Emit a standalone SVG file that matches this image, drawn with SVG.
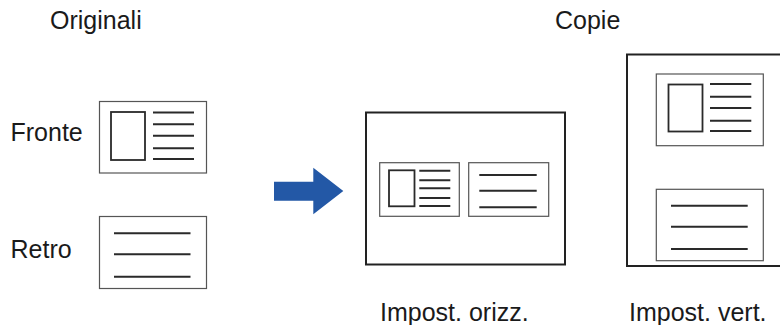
<svg xmlns="http://www.w3.org/2000/svg" width="780" height="325" viewBox="0 0 780 325">
<style>
.t{font-family:"Liberation Sans",Arial,sans-serif;font-size:25px;fill:#1a1a1a}
.card{fill:#fff;stroke:#555;stroke-width:1.2}
.frame{fill:#fff;stroke:#222;stroke-width:2}
.pic{fill:none;stroke:#2a2a2a;stroke-width:1.8}
.ln{stroke:#2a2a2a;stroke-width:2}
</style>
<rect width="780" height="325" fill="#fff"/>
<text class="t" x="50" y="29">Originali</text>
<text class="t" x="555" y="29">Copie</text>
<text class="t" x="380" y="321">Impost. orizz.</text>
<text class="t" x="629" y="321">Impost. vert.</text>
<g id="fronte">
<text class="t" x="10.5" y="141">Fronte</text>
<rect class="card" x="99.5" y="101.5" width="107" height="71.5"/>
<rect class="pic" x="111" y="112" width="34" height="48"/>
<path class="ln" d="M153 112.5H194M153 124.3H194M153 135.7H194M153 148.3H194M153 159H194"/>
</g>
<g id="retro">
<text class="t" x="10.5" y="258">Retro</text>
<rect class="card" x="99.5" y="216.5" width="107" height="72"/>
<path class="ln" d="M114 233.3H190.5M114 254.3H190.5M114 276.7H190.5"/>
</g>
<g id="connectors">
<path id="arrow" d="M274 181.7H313.3V167.7L343.3 191L313.3 214.3V200.7H274Z" fill="#2358a6"/>
</g>
<g id="orizz">
<rect class="frame" x="366" y="112.5" width="199" height="152"/>
<rect class="card" x="379.7" y="162.7" width="79.6" height="53.6"/>
<rect class="pic" x="389" y="170.3" width="25.5" height="36"/>
<path class="ln" d="M419.3 170.7H450.3M419.3 180.3H450.3M419.3 188.3H450.3M419.3 198H450.3M419.3 206H450.3"/>
<rect class="card" x="468.7" y="162.7" width="80" height="53.6"/>
<path class="ln" d="M479.3 175H536.7M479.3 190.7H536.7M479.3 207.3H536.7"/>
</g>
<g id="vert">
<rect class="frame" x="627" y="54.5" width="170" height="211.5"/>
<rect class="card" x="656.3" y="74" width="107" height="71.7"/>
<rect class="pic" x="668.5" y="84.5" width="34" height="47"/>
<path class="ln" d="M710 84H751.3M710 96.7H751.3M710 108H751.3M710 120.7H751.3M710 131H751.3"/>
<rect class="card" x="656.3" y="189.3" width="107" height="71.4"/>
<path class="ln" d="M671 205.7H747.7M671 226.7H747.7M671 249H747.7"/>
</g>
</svg>
